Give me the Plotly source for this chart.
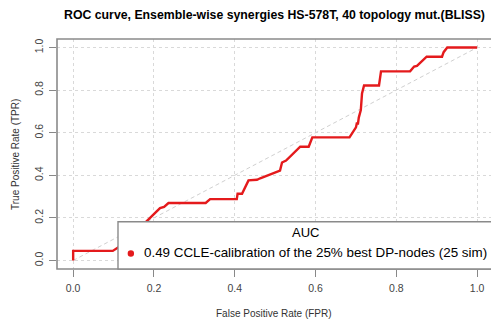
import plotly.graph_objects as go

# ROC curve data
fpr = [0.0, 0.0, 0.098, 0.105, 0.112, 0.150, 0.186, 0.215, 0.225, 0.236, 0.328, 0.339,
       0.405, 0.407, 0.418, 0.434, 0.455, 0.463, 0.512, 0.517, 0.527, 0.562, 0.583, 0.592,
       0.684, 0.696, 0.700, 0.702, 0.705, 0.707, 0.712, 0.715, 0.720, 0.757, 0.762,
       0.834, 0.844, 0.851, 0.875, 0.913, 0.917, 0.926, 1.0]
tpr = [0.0, 0.045, 0.045, 0.055, 0.062, 0.125, 0.190, 0.246, 0.252, 0.270, 0.270, 0.288,
       0.288, 0.313, 0.313, 0.376, 0.379, 0.386, 0.422, 0.460, 0.469, 0.534, 0.534, 0.578,
       0.578, 0.611, 0.625, 0.643, 0.643, 0.671, 0.706, 0.784, 0.822, 0.822, 0.888,
       0.888, 0.911, 0.914, 0.957, 0.957, 0.978, 1.0, 1.0]
diag = [0.0, 1.0]
tick_vals = [0.0, 0.2, 0.4, 0.6, 0.8, 1.0]
tick_text = ["0.0", "0.2", "0.4", "0.6", "0.8", "1.0"]

title = "ROC curve, Ensemble-wise synergies HS-578T, 40 topology mut.(BLISS)"
legend_title = "AUC"
legend_label = "0.49 CCLE-calibration of the 25% best DP-nodes (25 sim)"

RED = "#E41A1C"
FONT = "Liberation Sans, Arial, sans-serif"
W, H = 491, 323
ML, MR, MT, MB = 57, 0, 39, 54
x_range = [-0.04, -0.04 + (W - ML - MR) / 404.0]
y_range = [-0.04, 1.04]

fig = go.Figure()
fig.add_trace(go.Scatter(x=diag, y=diag, mode="lines",
                         line=dict(color="#d0d0d0", width=1, dash="4px,3px"),
                         hoverinfo="skip", showlegend=False))
fig.add_trace(go.Scatter(x=fpr, y=tpr, mode="lines",
                         line=dict(color=RED, width=2.4),
                         showlegend=False))

axis_common = dict(
    tickvals=tick_vals, ticktext=tick_text,
    showgrid=True, gridcolor="#d9d9d9", griddash="dot", gridwidth=1,
    zeroline=False, showline=False,
    ticks="outside", ticklen=7, tickwidth=1, tickcolor="#888888",
    tickfont=dict(family=FONT, size=10.5, color="#444444"),
)
fig.update_xaxes(range=x_range, **axis_common, ticklabelstandoff=2)
fig.update_yaxes(range=y_range, tickangle=-90, **axis_common, ticklabelstandoff=2)

shapes = [
    # plot box
    dict(type="rect", xref="paper", yref="paper", x0=0, x1=1.05, y0=0, y1=1,
         line=dict(color="#8a8a8a", width=1.6), fillcolor="rgba(0,0,0,0)", layer="above"),
    # legend box
    dict(type="rect", xref="x", yref="paper", x0=0.111, x1=1.2, y0=0, y1=(0.182 + 0.04) / 1.08,
         line=dict(color="#8a8a8a", width=1.4), fillcolor="white", layer="above"),
    # legend marker
    dict(type="circle", xref="x", yref="y", xsizemode="pixel", ysizemode="pixel",
         xanchor=(130.7 - 73) / 404.0, yanchor=(261 - 254) / 214.0,
         x0=-3.2, x1=3.2, y0=-3.2, y1=3.2,
         line=dict(color=RED, width=0), fillcolor=RED, layer="above"),
]

annotations = [
    dict(text="<b>" + title + "</b>", xref="paper", yref="paper",
         x=(274 - ML) / (W - ML - MR), y=1 + (MT - 15) / (H - MT - MB),
         showarrow=False, xanchor="center", yanchor="middle",
         font=dict(family=FONT, size=12.3, color="black")),
    dict(text="False Positive Rate (FPR)", xref="paper", yref="paper",
         x=(274 - ML) / (W - ML - MR), y=-(313 - (H - MB)) / (H - MT - MB),
         showarrow=False, xanchor="center", yanchor="middle",
         font=dict(family=FONT, size=10, color="#333333")),
    dict(text="True Positive Rate (TPR)", xref="paper", yref="paper",
         x=-(ML - 15) / (W - ML - MR), y=(H - MB - 155) / (H - MT - MB),
         textangle=-90, showarrow=False, xanchor="center", yanchor="middle",
         font=dict(family=FONT, size=10, color="#333333")),
    dict(text=legend_title, xref="x", yref="y",
         x=(305 - 73) / 404.0, y=(261 - 233) / 214.0,
         showarrow=False, xanchor="center", yanchor="middle",
         font=dict(family=FONT, size=13, color="black")),
    dict(text=legend_label, xref="x", yref="y",
         x=(142 - 73) / 404.0, y=(261 - 253) / 214.0,
         showarrow=False, xanchor="left", yanchor="middle",
         font=dict(family=FONT, size=13.4, color="black")),
]

fig.update_layout(
    width=W, height=H,
    margin=dict(l=ML, r=MR, t=MT, b=MB, pad=0),
    plot_bgcolor="white", paper_bgcolor="white",
    shapes=shapes, annotations=annotations,
    showlegend=False,
)
fig.write_html("out.html")
